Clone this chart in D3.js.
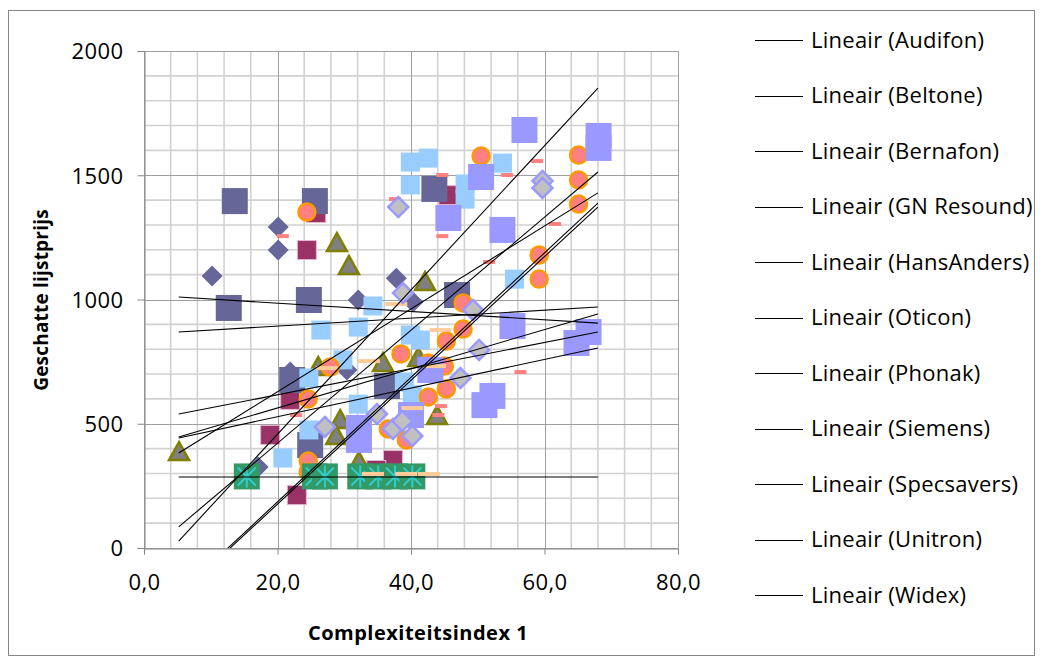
<!DOCTYPE html>
<html>
<head>
<meta charset="utf-8">
<script src="https://cdn.jsdelivr.net/npm/d3@7"></script>
<style>
  body { margin: 0; background: #fff; }
  text { font-family: "Open Sans", "Noto Sans", sans-serif; fill: #000; }
</style>
</head>
<body>
<svg id="chart" width="1043" height="664"></svg>
<script>
// series names (legend shows only the linear trendlines)
const seriesNames = ["Audifon", "Beltone", "Bernafon", "GN Resound", "HansAnders", "Oticon",
  "Phonak", "Siemens", "Specsavers", "Unitron", "Widex"];

// points per brand: [complexiteitsindex, lijstprijs]
const audifonPts = [[20.1,1292],[20.1,1199],[10.2,1095],[37.8,1086],[32.1,998],[40.3,990],[30.4,716],[17.1,326],[21.9,708]];
const beltonePts = [[25.8,1348],[24.4,1199],[45.6,1420],[21.9,596],[18.9,455],[37.3,354],[22.9,213],[34.8,314]];
const bernafonPts = [[5.25,386],[28.9,1227],[30.7,1135],[42.1,1070],[26.1,728],[35.8,744],[41.1,765],[43.9,531],[29.4,515],[28.8,451],[32.2,346]];
const gnResoundPts = [[13.6,1396],[25.6,1396],[12.7,966],[24.7,998],[43.5,1445],[46.9,1018],[22.2,676],[36.4,652],[24.9,414]];
const hansAndersPts = [[39.9,1553],[42.6,1569],[39.9,1461],[48.1,1465],[48.1,1404],[53.7,1549],[55.5,1082],[26.5,877],[24.7,684],[24.7,475],[20.8,362],[34.3,974],[32.1,889],[39.9,857],[41.4,837],[29.8,757],[32.1,579],[39.0,668],[40.2,616]];
const oticonPts = [[24.4,1352],[50.5,1577],[65.1,1581],[65.1,1481],[65.1,1384],[59.2,1179],[59.2,1082],[47.8,986],[47.8,881],[45.3,833],[38.5,781],[42.6,744],[45.0,732],[27.9,728],[24.6,600],[24.6,350],[24.6,306],[42.6,608],[45.3,640],[36.6,479],[39.3,435]];
const phonakPts = [[20.8,1255],[44.7,1501],[44.7,1255],[37.6,1404],[51.7,1151],[58.9,1557],[54.4,1501],[61.6,1304],[22.8,535],[16.2,330],[44.5,571],[44.1,535],[56.4,708]];
const siemensPts = [[57.0,1682],[68.1,1658],[68.1,1610],[45.6,1328],[50.5,1493],[53.7,1280],[55.2,893],[64.8,825],[66.6,869],[52.2,612],[51.0,575],[42.9,716],[40.0,535],[32.2,483],[32.2,435]];
const specsaversPts = [[15.4,288],[25.6,288],[27.1,288],[32.4,288],[35.1,288],[37.6,288],[40.2,288]];
const unitronPts = [[37.8,982],[44.4,877],[33.7,752],[27.4,724],[43.6,732],[40.2,563],[34.3,298],[39.3,298],[42.7,298]];
const widexPts = [[38.1,1372],[59.7,1477],[59.7,1449],[38.8,1026],[49.3,958],[50.2,797],[47.4,684],[34.9,539],[27.1,487],[37.3,479],[38.7,511],[40.2,451]];

// linear trendlines: value at x = 5.2 and x = 68
const trendX = [5.2, 68];
const trendStartY = [1010, 539, 382, 869, 85, -185, -192, 28, 286, 443, 447];
const trendEndY = [905, 869, 1429, 970, 1513, 1388, 1372, 1851, 286, 805, 942];

const xTicks = [0, 20, 40, 60, 80];
const yTicks = [0, 500, 1000, 1500, 2000];

const svg = d3.select("#chart");
const plot = { left: 144, right: 678, top: 51, bottom: 548 };

const x = d3.scaleLinear().domain([0, 80]).range([plot.left, plot.right]);
const y = d3.scaleLinear().domain([0, 2000]).range([plot.bottom, plot.top]);

// outer chart border
svg.append("rect")
  .attr("x", 8.5).attr("y", 10.5)
  .attr("width", 1026).attr("height", 645)
  .attr("fill", "#fff").attr("stroke", "#868686");

// gridlines
const grid = svg.append("g");
d3.range(0, 81, 4).filter(v => v % 20 !== 0).forEach(v => {
  grid.append("line").attr("x1", x(v)).attr("x2", x(v))
    .attr("y1", plot.top).attr("y2", plot.bottom)
    .attr("stroke", "#d2d2d2").attr("stroke-width", 1.6);
});
d3.range(0, 2001, 100).filter(v => v % 500 !== 0).forEach(v => {
  grid.append("line").attr("x1", plot.left).attr("x2", plot.right)
    .attr("y1", y(v)).attr("y2", y(v))
    .attr("stroke", "#d2d2d2").attr("stroke-width", 1.6);
});
xTicks.forEach(v => {
  grid.append("line").attr("x1", Math.round(x(v)) + 0.5).attr("x2", Math.round(x(v)) + 0.5)
    .attr("y1", plot.top).attr("y2", plot.bottom)
    .attr("stroke", "#a0a0a0");
});
yTicks.forEach(v => {
  grid.append("line").attr("x1", plot.left).attr("x2", plot.right)
    .attr("y1", Math.round(y(v)) + 0.5).attr("y2", Math.round(y(v)) + 0.5)
    .attr("stroke", "#a0a0a0");
});

// axes
const xAxis = svg.append("g")
  .attr("transform", `translate(0,${plot.bottom + 0.5})`)
  .call(d3.axisBottom(x).tickValues(xTicks).tickSize(6).tickPadding(20)
    .tickFormat(d => d.toFixed(1).replace(".", ",")));
const yAxis = svg.append("g")
  .attr("transform", `translate(${plot.left + 0.5},0)`)
  .call(d3.axisLeft(y).tickValues(yTicks).tickSize(7).tickPadding(14)
    .tickFormat(d3.format("d")));
[xAxis, yAxis].forEach(a => {
  a.selectAll("path, line").attr("stroke", "#868686");
  a.selectAll("text").style("font-size", "22px").style("letter-spacing", "0.4px")
    .style("font-family", "'Open Sans', sans-serif").attr("fill", "#000");
});
yAxis.selectAll("text").attr("dy", "0.36em");

// markers
svg.append("clipPath").attr("id", "plotclip").append("rect")
  .attr("x", plot.left).attr("y", plot.top)
  .attr("width", plot.right - plot.left).attr("height", plot.bottom - plot.top);

const marks = svg.append("g");

function diamond(g, pts, r, fill, stroke, sw) {
  g.selectAll(null).data(pts).enter().append("path")
    .attr("d", d => `M${x(d[0])},${y(d[1]) - r}L${x(d[0]) + r},${y(d[1])}L${x(d[0])},${y(d[1]) + r}L${x(d[0]) - r},${y(d[1])}Z`)
    .attr("fill", fill).attr("stroke", stroke || "none").attr("stroke-width", sw || 0);
}
function square(g, pts, s, fill, stroke, sw) {
  g.selectAll(null).data(pts).enter().append("rect")
    .attr("x", d => x(d[0]) - s / 2).attr("y", d => y(d[1]) - s / 2)
    .attr("width", s).attr("height", s)
    .attr("fill", fill).attr("stroke", stroke || "none").attr("stroke-width", sw || 0);
}
function dash(g, pts, w, h, fill) {
  g.selectAll(null).data(pts).enter().append("rect")
    .attr("x", d => x(d[0]) - w / 2).attr("y", d => y(d[1]) - h / 2)
    .attr("width", w).attr("height", h).attr("fill", fill);
}

diamond(marks, audifonPts, 10.5, "#666699");
square(marks, beltonePts, 19, "#993366", "#e7b5cf", 1);
marks.selectAll(null).data(bernafonPts).enter().append("path")
  .attr("d", d => {
    const cx = x(d[0]), cy = y(d[1]);
    return `M${cx},${cy - 10}L${cx + 10},${cy + 8}L${cx - 10},${cy + 8}Z`;
  })
  .attr("fill", "#808080").attr("stroke", "#808000").attr("stroke-width", 2.5)
  .attr("stroke-linejoin", "miter");
square(marks, gnResoundPts, 26, "#666699");
square(marks, hansAndersPts, 19, "#99ccff");
marks.selectAll(null).data(oticonPts).enter().append("circle")
  .attr("cx", d => x(d[0])).attr("cy", d => y(d[1])).attr("r", 8.5)
  .attr("fill", "#ff8080").attr("stroke", "#ff9900").attr("stroke-width", 2.5);
dash(marks, phonakPts, 12, 4, "#ff8080");
square(marks, siemensPts, 26, "#9999ff");
const spec = marks.selectAll(null).data(specsaversPts).enter().append("g")
  .attr("transform", d => `translate(${x(d[0])},${y(d[1])})`);
spec.append("rect").attr("x", -13).attr("y", -13).attr("width", 26).attr("height", 26).attr("fill", "#339966");
spec.append("path").attr("d", "M-9,-9L9,9M9,-9L-9,9M0,-11V11")
  .attr("stroke", "#33cccc").attr("stroke-width", 2);
dash(marks, unitronPts, 22, 4, "#ffcc99");
diamond(marks, widexPts, 10, "#c0c0c0", "#9999ff", 2.5);

// trendlines
const trends = svg.append("g").attr("clip-path", "url(#plotclip)");
seriesNames.forEach((name, i) => {
  trends.append("line")
    .attr("x1", x(trendX[0])).attr("y1", y(trendStartY[i]))
    .attr("x2", x(trendX[1])).attr("y2", y(trendEndY[i]))
    .attr("stroke", "#000").attr("stroke-width", 1.1);
});

// axis titles
svg.append("text")
  .attr("x", 418).attr("y", 640)
  .attr("text-anchor", "middle")
  .style("font-size", "20px").style("font-weight", "bold").style("letter-spacing", "0.5px")
  .text("Complexiteitsindex 1");
svg.append("text")
  .attr("transform", "translate(48,300) rotate(-90)")
  .attr("text-anchor", "middle")
  .style("font-size", "19px").style("font-weight", "bold").style("letter-spacing", "0.2px")
  .text("Geschatte lijstprijs");

// legend
const legend = svg.append("g");
seriesNames.forEach((name, i) => {
  const ly = 40 + i * 55.5;
  legend.append("line").attr("x1", 755).attr("x2", 803)
    .attr("y1", Math.round(ly) + 0.5).attr("y2", Math.round(ly) + 0.5)
    .attr("stroke", "#000").attr("stroke-width", 1);
  legend.append("text").attr("x", 811).attr("y", ly).attr("dy", "0.36em")
    .style("font-size", "22px").style("letter-spacing", "0.25px")
    .text(`Lineair (${name})`);
});
</script>
</body>
</html>
